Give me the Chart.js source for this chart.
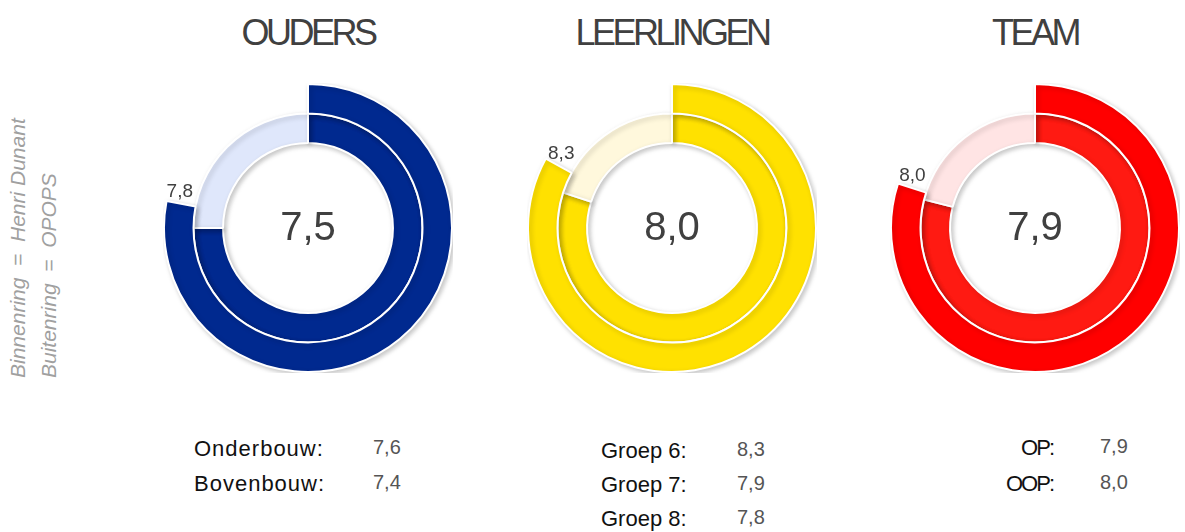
<!DOCTYPE html>
<html>
<head>
<meta charset="utf-8">
<script src="https://cdn.jsdelivr.net/npm/chart.js@4/dist/chart.umd.min.js"></script>
<style>
  body { margin: 0; width: 1185px; height: 532px; background: #fff; position: relative; overflow: hidden;
         font-family: "Liberation Sans", Arial, sans-serif; }
  .title { position: absolute; top: 12px; width: 300px; margin-left: -150px; text-align: center;
           font-size: 36px; letter-spacing: -3.5px; color: #404040; }
  .ring { position: absolute; width: 290px; height: 290px; }
  .side { position: absolute; top: 378px; white-space: pre; font-style: italic; font-size: 21px; line-height: 24px;
          color: #a0a0a0; transform-origin: 0 0; transform: rotate(-90deg); }
  .lbl, .val { position: absolute; white-space: pre; transform: translateY(-50%); }
  .lbl { font-size: 22px; color: #111; }
  .val { font-size: 20px; color: #555; }
</style>
</head>
<body>
<div class="side" style="left:6px;">Binnenring  =  Henri Dunant</div>
<div class="side" style="left:37px;">Buitenring  =  OPOPS</div>

<script>
// scores out of 10
const groups = ['OUDERS', 'LEERLINGEN', 'TEAM'];
const opops = [7.8, 8.3, 8.0];          // buitenring
const henriDunant = [7.5, 8.0, 7.9];    // binnenring
const maxScore = 10;

const ouderLabels = ['Onderbouw:', 'Bovenbouw:'];
const ouderValues = [7.6, 7.4];
const leerlingLabels = ['Groep 6:', 'Groep 7:', 'Groep 8:'];
const leerlingValues = [8.3, 7.9, 7.8];
const teamLabels = ['OP:', 'OOP:'];
const teamValues = [7.9, 8.0];

const outerColors = ['#00298f', '#ffe100', '#ff0000'];
const innerColors = ['#00298f', '#ffe100', '#ff1a12'];
const restColors = ['#dfe7fb', '#fff8dc', '#ffe4e4'];
const centersX = [308, 672, 1035];
const centerY = 228;

const fmt = v => v.toFixed(1).replace('.', ',');

// soft shadow under the rings
const ringShadow = {
  id: 'ringShadow',
  beforeDatasetsDraw(chart) {
    const ctx = chart.ctx;
    ctx.save();
    ctx.shadowColor = 'rgba(0,0,0,0.22)';
    ctx.shadowBlur = 5;
    ctx.shadowOffsetX = 2;
    ctx.shadowOffsetY = 2;
  },
  afterDatasetsDraw(chart) {
    chart.ctx.restore();
  }
};

// outer value at the end of the outer arc, inner value in the middle
const ringLabels = {
  id: 'ringLabels',
  afterDraw(chart) {
    const ctx = chart.ctx;
    const outer = chart.getDatasetMeta(0).data[0];
    const a = outer.endAngle + 0.087;
    const r = (outer.outerRadius + outer.innerRadius) / 2 + 4;
    ctx.save();
    ctx.fillStyle = '#404040';
    ctx.textAlign = 'center';
    ctx.textBaseline = 'middle';
    ctx.font = '19px "Liberation Sans", Arial, sans-serif';
    ctx.fillText(fmt(chart.data.datasets[0].data[0]), outer.x + r * Math.cos(a), outer.y + r * Math.sin(a));
    ctx.font = '40px "Liberation Sans", Arial, sans-serif';
    ctx.fillText(fmt(chart.data.datasets[1].data[0]), outer.x, outer.y + 1);
    ctx.restore();
  }
};

groups.forEach((g, i) => {
  const t = document.createElement('div');
  t.className = 'title';
  t.style.left = centersX[i] + 'px';
  t.textContent = g;
  document.body.appendChild(t);

  const wrap = document.createElement('div');
  wrap.className = 'ring';
  wrap.style.left = (centersX[i] - 145) + 'px';
  wrap.style.top = (centerY - 145) + 'px';
  const cv = document.createElement('canvas');
  cv.width = 290; cv.height = 290;
  wrap.appendChild(cv);
  document.body.appendChild(wrap);

  new Chart(cv, {
    type: 'doughnut',
    data: {
      labels: ['score', 'rest'],
      datasets: [
        {
          label: 'OPOPS',
          data: [opops[i], maxScore - opops[i]],
          backgroundColor: [outerColors[i], 'rgba(0,0,0,0)'],
          borderColor: '#fff',
          borderWidth: [2, 0]
        },
        {
          label: 'Henri Dunant',
          data: [henriDunant[i], maxScore - henriDunant[i]],
          backgroundColor: [innerColors[i], restColors[i]],
          borderColor: '#fff',
          borderWidth: 2
        }
      ]
    },
    options: {
      responsive: false,
      animation: false,
      cutout: '59%',
      plugins: { legend: { display: false }, tooltip: { enabled: false } }
    },
    plugins: [ringShadow, ringLabels]
  });
});

// score tables under the rings
function addRows(labels, values, labelX, valueX, rowYs, alignRight, spacing) {
  labels.forEach((l, k) => {
    const a = document.createElement('div');
    a.className = 'lbl';
    a.textContent = l;
    a.style.top = rowYs[k] + 'px';
    a.style.letterSpacing = spacing + 'px';
    if (alignRight) a.style.right = (1185 - labelX) + 'px';
    else a.style.left = labelX + 'px';
    document.body.appendChild(a);
    const b = document.createElement('div');
    b.className = 'val';
    b.textContent = fmt(values[k]);
    b.style.left = valueX + 'px';
    b.style.top = (rowYs[k] - 2) + 'px';
    document.body.appendChild(b);
  });
}
addRows(ouderLabels, ouderValues, 194, 373, [449, 484], false, 1);
addRows(leerlingLabels, leerlingValues, 601, 737, [451, 485, 519], false, 0);
addRows(teamLabels, teamValues, 1053, 1100, [448, 484], true, -2);
</script>
</body>
</html>
